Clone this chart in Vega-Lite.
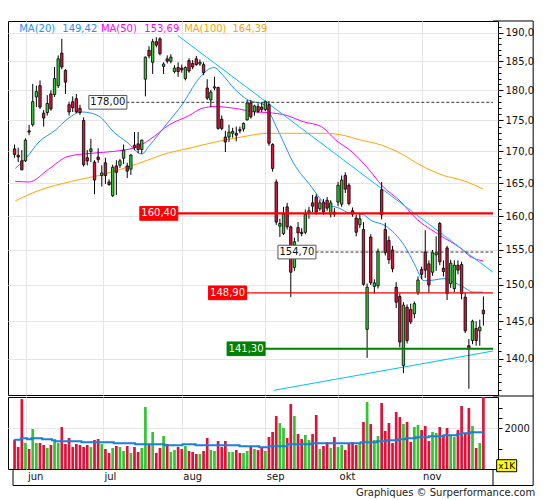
{
  "$schema": "https://vega.github.io/schema/vega-lite/v6.json",
  "background": "white",
  "padding": {"left": 7, "top": 19, "right": 0, "bottom": 0},
  "spacing": 2,
  "bounds": "flush",
  "config": {
    "view": {"stroke": "#000000", "strokeWidth": 1},
    "font": "DejaVu Sans",
    "axis": {"labelFont": "DejaVu Sans", "labelFontSize": 10, "labelColor": "#111111", "tickColor": "#000000"},
    "text": {"font": "DejaVu Sans"}
  },
  "resolve": {"scale": {"x": "independent", "y": "independent"}},
  "datasets": {
    "cand": [
      {"k":1,"o":170.4,"h":171.1,"l":169.0,"c":169.5,"v":1441},
      {"k":2,"o":169.4,"h":170.6,"l":168.3,"c":169.1,"v":1081},
      {"k":3,"o":168.5,"h":170.2,"l":167.0,"c":167.1,"v":3440},
      {"k":4,"o":168.5,"h":172.1,"l":168.3,"c":171.8,"v":1278},
      {"k":5,"o":173.3,"h":174.3,"l":172.6,"c":173.1,"v":983},
      {"k":6,"o":174.3,"h":181.1,"l":174.0,"c":178.1,"v":1966},
      {"k":7,"o":178.9,"h":180.8,"l":177.2,"c":179.8,"v":1278},
      {"k":8,"o":180.8,"h":181.7,"l":176.9,"c":177.2,"v":1278},
      {"k":9,"o":176.2,"h":176.7,"l":174.0,"c":175.4,"v":1179},
      {"k":10,"o":176.3,"h":179.2,"l":175.8,"c":177.8,"v":1032},
      {"k":11,"o":179.4,"h":180.0,"l":176.6,"c":176.9,"v":1179},
      {"k":12,"o":179.3,"h":184.0,"l":178.9,"c":182.0,"v":1409},
      {"k":13,"o":180.8,"h":186.0,"l":180.4,"c":185.4,"v":1278},
      {"k":14,"o":186.4,"h":188.9,"l":183.6,"c":184.0,"v":2064},
      {"k":15,"o":183.4,"h":183.6,"l":179.4,"c":181.4,"v":1229},
      {"k":16,"o":177.6,"h":178.1,"l":175.8,"c":176.4,"v":1523},
      {"k":17,"o":178.1,"h":179.0,"l":176.4,"c":177.1,"v":1081},
      {"k":18,"o":178.6,"h":179.4,"l":176.2,"c":176.4,"v":1229},
      {"k":19,"o":177.0,"h":177.6,"l":175.9,"c":176.3,"v":1179},
      {"k":20,"o":175.0,"h":175.5,"l":167.6,"c":167.9,"v":1081},
      {"k":21,"o":169.0,"h":170.2,"l":167.8,"c":168.5,"v":1179},
      {"k":22,"o":170.0,"h":172.0,"l":168.3,"c":170.4,"v":1081},
      {"k":23,"o":168.3,"h":168.6,"l":163.3,"c":165.5,"v":1425},
      {"k":24,"o":169.1,"h":170.5,"l":168.2,"c":168.7,"v":1474},
      {"k":25,"o":166.2,"h":167.8,"l":164.5,"c":166.6,"v":1229},
      {"k":26,"o":168.2,"h":169.0,"l":164.9,"c":166.2,"v":983},
      {"k":27,"o":165.2,"h":165.6,"l":164.6,"c":164.8,"v":786},
      {"k":28,"o":163.1,"h":167.9,"l":162.9,"c":167.5,"v":1032},
      {"k":29,"o":167.7,"h":168.6,"l":163.2,"c":166.7,"v":1130},
      {"k":30,"o":167.8,"h":168.8,"l":167.4,"c":168.5,"v":1081},
      {"k":31,"o":168.9,"h":171.1,"l":168.0,"c":170.2,"v":885},
      {"k":32,"o":167.7,"h":168.2,"l":165.8,"c":166.9,"v":1130},
      {"k":33,"o":167.2,"h":169.6,"l":166.3,"c":169.4,"v":786},
      {"k":34,"o":171.0,"h":173.1,"l":170.2,"c":170.6,"v":1081},
      {"k":35,"o":171.2,"h":173.1,"l":169.7,"c":170.3,"v":835},
      {"k":36,"o":170.3,"h":171.9,"l":169.6,"c":171.8,"v":1032},
      {"k":37,"o":181.9,"h":185.8,"l":179.0,"c":185.7,"v":3047},
      {"k":38,"o":186.9,"h":187.6,"l":185.5,"c":185.9,"v":1179},
      {"k":39,"o":184.8,"h":188.9,"l":182.8,"c":188.4,"v":1818},
      {"k":40,"o":188.4,"h":189.2,"l":187.4,"c":187.8,"v":786},
      {"k":41,"o":188.9,"h":189.2,"l":186.0,"c":186.3,"v":1032},
      {"k":42,"o":184.1,"h":184.8,"l":182.8,"c":184.5,"v":1622},
      {"k":43,"o":185.4,"h":186.0,"l":184.6,"c":185.0,"v":1229},
      {"k":44,"o":185.0,"h":186.2,"l":184.6,"c":185.7,"v":835},
      {"k":45,"o":183.2,"h":184.3,"l":182.9,"c":183.8,"v":934},
      {"k":46,"o":183.9,"h":184.8,"l":182.3,"c":183.2,"v":1081},
      {"k":47,"o":183.8,"h":184.4,"l":183.0,"c":183.5,"v":983},
      {"k":48,"o":182.0,"h":184.1,"l":181.7,"c":183.9,"v":1130},
      {"k":49,"o":185.1,"h":185.5,"l":183.0,"c":183.3,"v":885},
      {"k":50,"o":184.6,"h":185.2,"l":183.6,"c":184.0,"v":835},
      {"k":51,"o":185.4,"h":185.9,"l":184.2,"c":184.4,"v":737},
      {"k":52,"o":184.5,"h":185.3,"l":184.2,"c":184.8,"v":737},
      {"k":53,"o":184.4,"h":184.8,"l":182.6,"c":183.0,"v":885},
      {"k":54,"o":180.4,"h":181.9,"l":178.4,"c":178.7,"v":1523},
      {"k":55,"o":178.4,"h":180.1,"l":177.2,"c":179.7,"v":934},
      {"k":56,"o":180.4,"h":182.3,"l":180.0,"c":180.6,"v":885},
      {"k":57,"o":180.5,"h":180.6,"l":173.5,"c":173.7,"v":1376},
      {"k":58,"o":175.2,"h":175.8,"l":173.4,"c":173.7,"v":1081},
      {"k":59,"o":172.3,"h":173.3,"l":169.9,"c":171.5,"v":1376},
      {"k":60,"o":172.3,"h":174.3,"l":171.5,"c":173.1,"v":835},
      {"k":61,"o":172.9,"h":173.8,"l":172.2,"c":173.2,"v":835},
      {"k":62,"o":172.9,"h":174.0,"l":171.6,"c":172.6,"v":934},
      {"k":63,"o":173.5,"h":174.0,"l":172.9,"c":173.3,"v":786},
      {"k":64,"o":173.6,"h":174.7,"l":173.2,"c":174.5,"v":786},
      {"k":65,"o":175.1,"h":178.4,"l":175.0,"c":177.9,"v":885},
      {"k":66,"o":177.9,"h":178.4,"l":175.3,"c":175.6,"v":1081},
      {"k":67,"o":176.5,"h":177.6,"l":175.8,"c":177.4,"v":983},
      {"k":68,"o":177.3,"h":177.8,"l":176.2,"c":176.5,"v":934},
      {"k":69,"o":177.2,"h":178.0,"l":176.4,"c":176.8,"v":1032},
      {"k":70,"o":176.8,"h":178.3,"l":176.5,"c":178.1,"v":885},
      {"k":71,"o":177.6,"h":178.2,"l":170.9,"c":171.3,"v":1572},
      {"k":72,"o":171.1,"h":171.3,"l":166.8,"c":167.3,"v":1818},
      {"k":73,"o":165.2,"h":165.6,"l":158.7,"c":159.1,"v":2604},
      {"k":74,"o":158.5,"h":159.6,"l":156.9,"c":158.9,"v":2260},
      {"k":75,"o":157.4,"h":161.4,"l":157.2,"c":160.3,"v":2015},
      {"k":76,"o":161.4,"h":162.0,"l":158.0,"c":158.4,"v":1523},
      {"k":77,"o":158.4,"h":158.6,"l":148.3,"c":151.8,"v":3194},
      {"k":78,"o":152.5,"h":156.8,"l":152.0,"c":156.2,"v":2604},
      {"k":79,"o":158.3,"h":159.1,"l":156.2,"c":157.5,"v":1720},
      {"k":80,"o":157.6,"h":158.2,"l":157.0,"c":157.4,"v":1474},
      {"k":81,"o":157.6,"h":161.0,"l":157.3,"c":160.3,"v":1671},
      {"k":82,"o":160.4,"h":161.4,"l":159.6,"c":160.8,"v":1425},
      {"k":83,"o":162.0,"h":163.2,"l":160.6,"c":161.5,"v":1720},
      {"k":84,"o":162.9,"h":163.3,"l":160.2,"c":160.6,"v":2654},
      {"k":85,"o":161.1,"h":162.5,"l":160.8,"c":162.0,"v":983},
      {"k":86,"o":162.1,"h":162.6,"l":160.2,"c":160.6,"v":1130},
      {"k":87,"o":162.4,"h":162.9,"l":160.8,"c":161.2,"v":1327},
      {"k":88,"o":160.3,"h":162.4,"l":159.8,"c":162.0,"v":1032},
      {"k":89,"o":160.6,"h":161.2,"l":159.9,"c":160.3,"v":1572},
      {"k":90,"o":162.1,"h":165.2,"l":161.5,"c":164.7,"v":1081},
      {"k":91,"o":161.8,"h":166.2,"l":161.4,"c":165.5,"v":1179},
      {"k":92,"o":166.2,"h":166.7,"l":163.5,"c":164.1,"v":934},
      {"k":93,"o":164.7,"h":165.0,"l":161.6,"c":161.9,"v":1278},
      {"k":94,"o":160.8,"h":161.3,"l":159.9,"c":160.3,"v":1327},
      {"k":95,"o":159.7,"h":160.2,"l":157.0,"c":157.6,"v":1179},
      {"k":96,"o":158.7,"h":160.4,"l":158.2,"c":159.6,"v":1229},
      {"k":97,"o":158.0,"h":159.1,"l":149.9,"c":150.1,"v":2310},
      {"k":98,"o":143.9,"h":150.2,"l":140.1,"c":149.7,"v":3292},
      {"k":99,"o":156.9,"h":157.3,"l":150.0,"c":150.3,"v":2211},
      {"k":100,"o":149.8,"h":150.8,"l":148.8,"c":150.3,"v":1425},
      {"k":101,"o":149.9,"h":155.2,"l":149.5,"c":154.8,"v":1622},
      {"k":102,"o":164.0,"h":165.2,"l":159.5,"c":160.2,"v":3243},
      {"k":103,"o":158.0,"h":159.0,"l":154.2,"c":154.6,"v":1867},
      {"k":104,"o":156.4,"h":157.0,"l":153.0,"c":153.6,"v":2260},
      {"k":105,"o":155.0,"h":155.6,"l":151.8,"c":152.3,"v":1278},
      {"k":106,"o":149.7,"h":150.4,"l":146.8,"c":147.6,"v":2801},
      {"k":107,"o":148.4,"h":148.8,"l":141.5,"c":142.2,"v":2555},
      {"k":108,"o":139.1,"h":147.6,"l":138.1,"c":147.2,"v":2211},
      {"k":109,"o":146.9,"h":147.3,"l":142.0,"c":142.4,"v":2310},
      {"k":110,"o":146.6,"h":147.4,"l":144.6,"c":144.9,"v":1327},
      {"k":111,"o":146.0,"h":147.7,"l":145.4,"c":147.4,"v":2064},
      {"k":112,"o":148.9,"h":151.2,"l":148.6,"c":150.7,"v":2162},
      {"k":113,"o":152.2,"h":152.6,"l":150.8,"c":151.5,"v":1916},
      {"k":114,"o":154.7,"h":157.9,"l":151.0,"c":152.1,"v":2113},
      {"k":115,"o":153.0,"h":153.5,"l":148.9,"c":150.0,"v":1376},
      {"k":116,"o":151.8,"h":155.0,"l":151.3,"c":154.6,"v":1818},
      {"k":117,"o":154.3,"h":157.0,"l":152.0,"c":154.6,"v":1769},
      {"k":118,"o":158.9,"h":159.1,"l":152.8,"c":153.3,"v":2064},
      {"k":119,"o":152.4,"h":153.5,"l":151.2,"c":151.9,"v":1671},
      {"k":120,"o":155.3,"h":155.6,"l":147.9,"c":148.8,"v":2015},
      {"k":121,"o":150.2,"h":153.6,"l":149.6,"c":153.1,"v":1622},
      {"k":122,"o":149.5,"h":153.5,"l":149.0,"c":152.8,"v":1572},
      {"k":123,"o":152.8,"h":153.5,"l":151.5,"c":152.1,"v":1916},
      {"k":124,"o":152.9,"h":153.3,"l":148.0,"c":148.8,"v":3096},
      {"k":125,"o":148.3,"h":148.9,"l":143.4,"c":143.7,"v":1769},
      {"k":126,"o":141.7,"h":142.6,"l":136.1,"c":141.3,"v":2998},
      {"k":127,"o":142.4,"h":145.2,"l":141.9,"c":145.0,"v":2113},
      {"k":128,"o":144.0,"h":145.0,"l":141.7,"c":142.4,"v":1032},
      {"k":129,"o":143.7,"h":145.2,"l":141.7,"c":144.2,"v":1278},
      {"k":130,"o":146.5,"h":148.4,"l":144.4,"c":146.0,"v":3540}
    ],
    "ma": [
      {"s":"a","k":1.2,"v":167.3},{"s":"a","k":4.1,"v":168.9},{"s":"a","k":7.7,"v":171.5},{"s":"a","k":12.2,"v":173.4},
      {"s":"a","k":15.7,"v":175.3},{"s":"a","k":19.4,"v":176.4},{"s":"a","k":22.1,"v":176.2},{"s":"a","k":24.7,"v":175.5},
      {"s":"a","k":28.3,"v":173.1},{"s":"a","k":31.9,"v":171.5},{"s":"a","k":36.0,"v":169.6},{"s":"a","k":38.2,"v":171.0},
      {"s":"a","k":42.7,"v":174.3},{"s":"a","k":47.2,"v":177.7},{"s":"a","k":51.7,"v":182.0},{"s":"a","k":54.4,"v":183.6},
      {"s":"a","k":55.9,"v":183.9},{"s":"a","k":58.0,"v":182.8},{"s":"a","k":61.6,"v":180.2},{"s":"a","k":65.2,"v":178.4},
      {"s":"a","k":69.7,"v":177.6},{"s":"a","k":70.6,"v":176.9},{"s":"a","k":73.3,"v":173.6},{"s":"a","k":74.2,"v":172.5},
      {"s":"a","k":77.7,"v":168.2},{"s":"a","k":82.2,"v":164.8},{"s":"a","k":86.7,"v":161.8},{"s":"a","k":90.3,"v":161.2},
      {"s":"a","k":93.0,"v":160.5},{"s":"a","k":96.6,"v":160.3},{"s":"a","k":99.3,"v":159.3},{"s":"a","k":102.9,"v":158.6},
      {"s":"a","k":105.6,"v":157.4},{"s":"a","k":108.3,"v":155.6},{"s":"a","k":111.0,"v":153.0},{"s":"a","k":113.7,"v":150.6},
      {"s":"a","k":116.4,"v":150.7},{"s":"a","k":119.1,"v":150.9},{"s":"a","k":121.8,"v":150.4},{"s":"a","k":124.5,"v":149.7},
      {"s":"a","k":127.2,"v":149.0},{"s":"a","k":129.9,"v":149.0},
      {"s":"b","k":1.2,"v":165.3},{"s":"b","k":5.0,"v":165.2},{"s":"b","k":10.4,"v":167.2},{"s":"b","k":15.7,"v":169.2},
      {"s":"b","k":22.1,"v":169.7},{"s":"b","k":28.3,"v":170.0},{"s":"b","k":34.6,"v":170.7},{"s":"b","k":38.2,"v":171.9},
      {"s":"b","k":43.6,"v":174.3},{"s":"b","k":49.0,"v":175.8},{"s":"b","k":52.6,"v":177.0},{"s":"b","k":56.2,"v":177.3},
      {"s":"b","k":61.6,"v":177.0},{"s":"b","k":67.0,"v":176.4},{"s":"b","k":70.6,"v":176.3},{"s":"b","k":76.0,"v":175.8},
      {"s":"b","k":80.4,"v":174.8},{"s":"b","k":85.4,"v":174.0},{"s":"b","k":89.4,"v":171.8},{"s":"b","k":93.9,"v":169.9},
      {"s":"b","k":98.4,"v":167.2},{"s":"b","k":102.0,"v":164.7},{"s":"b","k":107.4,"v":162.1},{"s":"b","k":111.0,"v":159.9},
      {"s":"b","k":118.2,"v":157.1},{"s":"b","k":123.6,"v":155.3},{"s":"b","k":126.3,"v":154.1},{"s":"b","k":129.9,"v":153.4},
      {"s":"c","k":1.2,"v":162.3},{"s":"c","k":7.7,"v":163.9},{"s":"c","k":16.7,"v":165.3},{"s":"c","k":25.6,"v":166.4},
      {"s":"c","k":34.6,"v":168.0},{"s":"c","k":43.6,"v":169.8},{"s":"c","k":49.0,"v":170.5},{"s":"c","k":56.2,"v":171.5},
      {"s":"c","k":63.4,"v":172.3},{"s":"c","k":70.6,"v":172.9},{"s":"c","k":77.7,"v":172.9},{"s":"c","k":86.7,"v":172.9},
      {"s":"c","k":92.1,"v":172.5},{"s":"c","k":95.7,"v":171.9},{"s":"c","k":102.0,"v":171.0},{"s":"c","k":106.5,"v":169.9},
      {"s":"c","k":113.7,"v":167.5},{"s":"c","k":119.1,"v":166.2},{"s":"c","k":124.5,"v":165.4},{"s":"c","k":129.9,"v":164.1}
    ],
    "trend": [
      {"g":"t1","k":45.9,"p":189.5},{"g":"t1","k":132.64,"p":151.8},
      {"g":"t2","k":72.3,"p":135.9},{"g":"t2","k":132.64,"p":141.0}
    ],
    "refs": [
      {"p":178.0,"t":"178,00","kl":26.67,"k0":31.75,"k1":132.64,"kind":"dash"},
      {"p":160.4,"t":"160,40","kl":40.69,"k0":45.07,"k1":132.64,"kind":"red"},
      {"p":154.7,"t":"154,70","kl":78.7,"k0":83.8,"k1":132.64,"kind":"dash"},
      {"p":148.9,"t":"148,90","kl":59.6,"k0":64.9,"k1":132.64,"kind":"redthin"},
      {"p":141.3,"t":"141,30","kl":64.7,"k0":69.84,"k1":132.64,"kind":"green"}
    ],
    "leg": [
      {"s":"a","k":2.27,"p":190.7,"t":"MA(20)"},{"s":"a","k":14.13,"p":190.7,"t":"149,42"},
      {"s":"b","k":24.75,"p":190.7,"t":"MA(50)"},{"s":"b","k":36.69,"p":190.7,"t":"153,69"},
      {"s":"c","k":47.66,"p":190.7,"t":"MA(100)"},{"s":"c","k":60.95,"p":190.7,"t":"164,39"}
    ],
    "vma": [
      {"k":0.93,"v":1441},{"k":2.7,"v":1507},{"k":4.5,"v":1458},{"k":5.6,"v":1507},{"k":8.6,"v":1458},
      {"k":11.3,"v":1409},{"k":12.2,"v":1360},{"k":19.4,"v":1310},{"k":28.3,"v":1261},{"k":34.2,"v":1212},
      {"k":42.3,"v":1163},{"k":47.2,"v":1212},{"k":50.8,"v":1163},{"k":62.9,"v":1114},{"k":68.3,"v":1065},
      {"k":71.0,"v":1114},{"k":76.0,"v":1212},{"k":82.7,"v":1261},{"k":96.2,"v":1310},{"k":100.7,"v":1360},
      {"k":103.3,"v":1409},{"k":106.5,"v":1458},{"k":108.7,"v":1507},{"k":111.4,"v":1556},{"k":115.0,"v":1605},
      {"k":119.1,"v":1654},{"k":122.7,"v":1703},{"k":124.1,"v":1753},{"k":126.3,"v":1802},{"k":129.9,"v":1802}
    ],
    "frame": [
      {"k":132.64,"k2":143.69,"v":22027,"v2":22027},
      {"k":143.69,"k2":143.69,"v":-811,"v2":22027},
      {"k":132.64,"k2":143.69,"v":3589,"v2":3589},
      {"k":0.569,"k2":143.69,"v":-811,"v2":-811},
      {"k":0.569,"k2":0.569,"v":-811,"v2":0},
      {"k":132.64,"k2":132.64,"v":-811,"v2":0}
    ],
    "unit": [{"k":136.4,"v":162,"t":"x1K"}],
    "foot": [{"k":144.23,"v":-1180,"t":"Graphiques © Surperformance.com"}]
  },
  "vconcat": [
    {
      "width": 490,
      "height": 374,
      "layer": [
        {
          "data": {"name": "ma"},
          "mark": {"type": "line", "strokeWidth": 1, "interpolate": "monotone"},
          "encoding": {
            "x": {"field": "k", "type": "quantitative", "scale": {"domain": [0.569, 132.64], "nice": false, "zero": false},
                  "axis": {"values": [4.25, 25.3, 47, 70, 90, 113], "labels": false, "ticks": false, "domain": false, "grid": true, "gridColor": "#e6e6e6", "title": null}},
            "y": {"field": "v", "type": "quantitative", "scale": {"type": "log", "domain": [135.31, 192.09], "nice": false},
                  "axis": {"orient": "right", "title": null, "domain": false, "values": [136,137,138,139,140,141,142,143,144,145,146,147,148,149,150,151,152,153,154,155,156,157,158,159,160,161,162,163,164,165,166,167,168,169,170,171,172,173,174,175,176,177,178,179,180,181,182,183,184,185,186,187,188,189,190,191], "labelExpr": "datum.value % 5 == 0 ? replace(format(datum.value, '.1f'), '.', ',') : ''", "tickSize": {"condition": {"test": "datum.value % 5 == 0", "value": 5}, "value": 3}, "grid": true, "gridColor": "#e6e6e6", "gridOpacity": {"condition": {"test": "datum.value % 5 == 0", "value": 1}, "value": 0}, "labelPadding": 2, "labelOverlap": false, "labelFontSize": 10}},
            "detail": {"field": "s"},
            "color": {"condition": [{"test": "datum.s == 'a'", "value": "#1e90ff"}, {"test": "datum.s == 'b'", "value": "#ff00ff"}], "value": "#ffa500"}
          }
        },
        {
          "data": {"name": "trend"},
          "mark": {"type": "line", "strokeWidth": 1, "color": "#00bfff"},
          "encoding": {
            "x": {"field": "k", "type": "quantitative", "scale": {"domain": [0.569, 132.64], "nice": false, "zero": false},
                  "axis": {"values": [4.25, 25.3, 47, 70, 90, 113], "labels": false, "ticks": false, "domain": false, "grid": true, "gridColor": "#e6e6e6", "title": null}},
            "y": {"field": "p", "type": "quantitative", "scale": {"type": "log", "domain": [135.31, 192.09], "nice": false},
                  "axis": {"orient": "right", "title": null, "domain": false, "values": [136,137,138,139,140,141,142,143,144,145,146,147,148,149,150,151,152,153,154,155,156,157,158,159,160,161,162,163,164,165,166,167,168,169,170,171,172,173,174,175,176,177,178,179,180,181,182,183,184,185,186,187,188,189,190,191], "labelExpr": "datum.value % 5 == 0 ? replace(format(datum.value, '.1f'), '.', ',') : ''", "tickSize": {"condition": {"test": "datum.value % 5 == 0", "value": 5}, "value": 3}, "grid": true, "gridColor": "#e6e6e6", "gridOpacity": {"condition": {"test": "datum.value % 5 == 0", "value": 1}, "value": 0}, "labelPadding": 2, "labelOverlap": false, "labelFontSize": 10}},
            "detail": {"field": "g"}
          }
        },
        {
          "data": {"name": "cand"},
          "mark": {"type": "rule", "color": "#000000", "strokeWidth": 1},
          "encoding": {
            "x": {"field": "k", "type": "quantitative", "scale": {"domain": [0.569, 132.64], "nice": false, "zero": false},
                  "axis": {"values": [4.25, 25.3, 47, 70, 90, 113], "labels": false, "ticks": false, "domain": false, "grid": true, "gridColor": "#e6e6e6", "title": null}},
            "y": {"field": "l", "type": "quantitative", "scale": {"type": "log", "domain": [135.31, 192.09], "nice": false},
                  "axis": {"orient": "right", "title": null, "domain": false, "values": [136,137,138,139,140,141,142,143,144,145,146,147,148,149,150,151,152,153,154,155,156,157,158,159,160,161,162,163,164,165,166,167,168,169,170,171,172,173,174,175,176,177,178,179,180,181,182,183,184,185,186,187,188,189,190,191], "labelExpr": "datum.value % 5 == 0 ? replace(format(datum.value, '.1f'), '.', ',') : ''", "tickSize": {"condition": {"test": "datum.value % 5 == 0", "value": 5}, "value": 3}, "grid": true, "gridColor": "#e6e6e6", "gridOpacity": {"condition": {"test": "datum.value % 5 == 0", "value": 1}, "value": 0}, "labelPadding": 2, "labelOverlap": false, "labelFontSize": 10}},
            "y2": {"field": "h"}
          }
        },
        {
          "data": {"name": "cand"},
          "mark": {"type": "bar", "size": 2.4, "stroke": "#000000", "strokeWidth": 0.8},
          "encoding": {
            "x": {"field": "k", "type": "quantitative", "scale": {"domain": [0.569, 132.64], "nice": false, "zero": false},
                  "axis": {"values": [4.25, 25.3, 47, 70, 90, 113], "labels": false, "ticks": false, "domain": false, "grid": true, "gridColor": "#e6e6e6", "title": null}},
            "y": {"field": "o", "type": "quantitative", "scale": {"type": "log", "domain": [135.31, 192.09], "nice": false},
                  "axis": {"orient": "right", "title": null, "domain": false, "values": [136,137,138,139,140,141,142,143,144,145,146,147,148,149,150,151,152,153,154,155,156,157,158,159,160,161,162,163,164,165,166,167,168,169,170,171,172,173,174,175,176,177,178,179,180,181,182,183,184,185,186,187,188,189,190,191], "labelExpr": "datum.value % 5 == 0 ? replace(format(datum.value, '.1f'), '.', ',') : ''", "tickSize": {"condition": {"test": "datum.value % 5 == 0", "value": 5}, "value": 3}, "grid": true, "gridColor": "#e6e6e6", "gridOpacity": {"condition": {"test": "datum.value % 5 == 0", "value": 1}, "value": 0}, "labelPadding": 2, "labelOverlap": false, "labelFontSize": 10}},
            "y2": {"field": "c"},
            "fill": {"condition": {"test": "datum.c >= datum.o", "value": "#33cc33"}, "value": "#dc143c"}
          }
        },
        {
          "data": {"name": "refs"},
          "mark": {"type": "rule"},
          "encoding": {
            "x": {"field": "k0", "type": "quantitative", "scale": {"domain": [0.569, 132.64], "nice": false, "zero": false},
                  "axis": {"values": [4.25, 25.3, 47, 70, 90, 113], "labels": false, "ticks": false, "domain": false, "grid": true, "gridColor": "#e6e6e6", "title": null}},
            "x2": {"field": "k1"},
            "y": {"field": "p", "type": "quantitative", "scale": {"type": "log", "domain": [135.31, 192.09], "nice": false},
                  "axis": {"orient": "right", "title": null, "domain": false, "values": [136,137,138,139,140,141,142,143,144,145,146,147,148,149,150,151,152,153,154,155,156,157,158,159,160,161,162,163,164,165,166,167,168,169,170,171,172,173,174,175,176,177,178,179,180,181,182,183,184,185,186,187,188,189,190,191], "labelExpr": "datum.value % 5 == 0 ? replace(format(datum.value, '.1f'), '.', ',') : ''", "tickSize": {"condition": {"test": "datum.value % 5 == 0", "value": 5}, "value": 3}, "grid": true, "gridColor": "#e6e6e6", "gridOpacity": {"condition": {"test": "datum.value % 5 == 0", "value": 1}, "value": 0}, "labelPadding": 2, "labelOverlap": false, "labelFontSize": 10}},
            "color": {"condition": [{"test": "datum.kind == 'dash'", "value": "#333333"}, {"test": "datum.kind == 'green'", "value": "#008000"}], "value": "#ff0000"},
            "strokeWidth": {"condition": [{"test": "datum.kind == 'dash'", "value": 1}, {"test": "datum.kind == 'redthin'", "value": 1.3}], "value": 2.2},
            "strokeDash": {"condition": {"test": "datum.kind == 'dash'", "value": [3, 2]}, "value": [1, 0]}
          }
        },
        {
          "data": {"name": "refs"},
          "mark": {"type": "point", "shape": "M-1,-0.36H1V0.36H-1Z", "size": 1444, "filled": true, "opacity": 1, "strokeWidth": 1},
          "encoding": {
            "x": {"field": "kl", "type": "quantitative", "scale": {"domain": [0.569, 132.64], "nice": false, "zero": false},
                  "axis": {"values": [4.25, 25.3, 47, 70, 90, 113], "labels": false, "ticks": false, "domain": false, "grid": true, "gridColor": "#e6e6e6", "title": null}},
            "y": {"field": "p", "type": "quantitative", "scale": {"type": "log", "domain": [135.31, 192.09], "nice": false},
                  "axis": {"orient": "right", "title": null, "domain": false, "values": [136,137,138,139,140,141,142,143,144,145,146,147,148,149,150,151,152,153,154,155,156,157,158,159,160,161,162,163,164,165,166,167,168,169,170,171,172,173,174,175,176,177,178,179,180,181,182,183,184,185,186,187,188,189,190,191], "labelExpr": "datum.value % 5 == 0 ? replace(format(datum.value, '.1f'), '.', ',') : ''", "tickSize": {"condition": {"test": "datum.value % 5 == 0", "value": 5}, "value": 3}, "grid": true, "gridColor": "#e6e6e6", "gridOpacity": {"condition": {"test": "datum.value % 5 == 0", "value": 1}, "value": 0}, "labelPadding": 2, "labelOverlap": false, "labelFontSize": 10}},
            "fill": {"condition": [{"test": "datum.kind == 'dash'", "value": "#ffffff"}, {"test": "datum.kind == 'green'", "value": "#008000"}], "value": "#ff0000"},
            "stroke": {"condition": [{"test": "datum.kind == 'dash'", "value": "#555555"}, {"test": "datum.kind == 'green'", "value": "#008000"}], "value": "#ff0000"}
          }
        },
        {
          "data": {"name": "refs"},
          "mark": {"type": "text", "fontSize": 10, "align": "center", "baseline": "middle"},
          "encoding": {
            "x": {"field": "kl", "type": "quantitative", "scale": {"domain": [0.569, 132.64], "nice": false, "zero": false},
                  "axis": {"values": [4.25, 25.3, 47, 70, 90, 113], "labels": false, "ticks": false, "domain": false, "grid": true, "gridColor": "#e6e6e6", "title": null}},
            "y": {"field": "p", "type": "quantitative", "scale": {"type": "log", "domain": [135.31, 192.09], "nice": false},
                  "axis": {"orient": "right", "title": null, "domain": false, "values": [136,137,138,139,140,141,142,143,144,145,146,147,148,149,150,151,152,153,154,155,156,157,158,159,160,161,162,163,164,165,166,167,168,169,170,171,172,173,174,175,176,177,178,179,180,181,182,183,184,185,186,187,188,189,190,191], "labelExpr": "datum.value % 5 == 0 ? replace(format(datum.value, '.1f'), '.', ',') : ''", "tickSize": {"condition": {"test": "datum.value % 5 == 0", "value": 5}, "value": 3}, "grid": true, "gridColor": "#e6e6e6", "gridOpacity": {"condition": {"test": "datum.value % 5 == 0", "value": 1}, "value": 0}, "labelPadding": 2, "labelOverlap": false, "labelFontSize": 10}},
            "text": {"field": "t"},
            "color": {"condition": {"test": "datum.kind == 'dash'", "value": "#111111"}, "value": "#ffffff"}
          }
        },
        {
          "data": {"name": "leg"},
          "mark": {"type": "text", "fontSize": 10, "align": "left", "baseline": "middle"},
          "encoding": {
            "x": {"field": "k", "type": "quantitative", "scale": {"domain": [0.569, 132.64], "nice": false, "zero": false},
                  "axis": {"values": [4.25, 25.3, 47, 70, 90, 113], "labels": false, "ticks": false, "domain": false, "grid": true, "gridColor": "#e6e6e6", "title": null}},
            "y": {"field": "p", "type": "quantitative", "scale": {"type": "log", "domain": [135.31, 192.09], "nice": false},
                  "axis": {"orient": "right", "title": null, "domain": false, "values": [136,137,138,139,140,141,142,143,144,145,146,147,148,149,150,151,152,153,154,155,156,157,158,159,160,161,162,163,164,165,166,167,168,169,170,171,172,173,174,175,176,177,178,179,180,181,182,183,184,185,186,187,188,189,190,191], "labelExpr": "datum.value % 5 == 0 ? replace(format(datum.value, '.1f'), '.', ',') : ''", "tickSize": {"condition": {"test": "datum.value % 5 == 0", "value": 5}, "value": 3}, "grid": true, "gridColor": "#e6e6e6", "gridOpacity": {"condition": {"test": "datum.value % 5 == 0", "value": 1}, "value": 0}, "labelPadding": 2, "labelOverlap": false, "labelFontSize": 10}},
            "text": {"field": "t"},
            "color": {"condition": [{"test": "datum.s == 'a'", "value": "#1e90ff"}, {"test": "datum.s == 'b'", "value": "#ff00ff"}], "value": "#ffa500"}
          }
        }
      ]
    },
    {
      "width": 490,
      "height": 72,
      "layer": [
        {
          "data": {"name": "cand"},
          "mark": {"type": "bar", "size": 2.7},
          "encoding": {
            "x": {"field": "k", "type": "quantitative", "scale": {"domain": [0.569, 132.64], "nice": false, "zero": false},
                  "axis": {"orient": "bottom", "values": [4.25, 25.3, 47, 70, 90, 113], "labelExpr": "datum.value < 10 ? 'jun' : datum.value < 30 ? 'jul' : datum.value < 60 ? 'aug' : datum.value < 80 ? 'sep' : datum.value < 100 ? 'okt' : 'nov'", "labelAlign": "left", "labelBaseline": "top", "labelPadding": 2, "labelOffset": 1, "labelFontSize": 10, "labelColor": "#111111", "labelFlush": false, "labelOverlap": false, "ticks": false, "domain": false, "grid": true, "gridColor": "#e6e6e6", "title": null}},
            "y": {"field": "v", "type": "quantitative", "scale": {"domain": [0, 3540], "nice": false, "zero": true},
                  "axis": {"orient": "right", "values": [1000, 2000, 2500, 3000], "labelExpr": "datum.value == 2000 ? '2000' : ''", "tickSize": 4, "grid": true, "gridColor": "#e6e6e6", "gridOpacity": {"condition": {"test": "datum.value == 2000", "value": 1}, "value": 0}, "domain": false, "title": null, "labelPadding": 2, "labelOverlap": false, "labelFontSize": 10}},
            "fill": {"condition": {"test": "datum.c >= datum.o", "value": "#33c433"}, "value": "#dc143c"}
          }
        },
        {
          "data": {"name": "vma"},
          "mark": {"type": "line", "interpolate": "step-after", "color": "#1a7fd9", "strokeWidth": 2},
          "encoding": {
            "x": {"field": "k", "type": "quantitative", "scale": {"domain": [0.569, 132.64], "nice": false, "zero": false},
                  "axis": {"orient": "bottom", "values": [4.25, 25.3, 47, 70, 90, 113], "labelExpr": "datum.value < 10 ? 'jun' : datum.value < 30 ? 'jul' : datum.value < 60 ? 'aug' : datum.value < 80 ? 'sep' : datum.value < 100 ? 'okt' : 'nov'", "labelAlign": "left", "labelBaseline": "top", "labelPadding": 2, "labelOffset": 1, "labelFontSize": 10, "labelColor": "#111111", "labelFlush": false, "labelOverlap": false, "ticks": false, "domain": false, "grid": true, "gridColor": "#e6e6e6", "title": null}},
            "y": {"field": "v", "type": "quantitative", "scale": {"domain": [0, 3540], "nice": false, "zero": true},
                  "axis": {"orient": "right", "values": [1000, 2000, 2500, 3000], "labelExpr": "datum.value == 2000 ? '2000' : ''", "tickSize": 4, "grid": true, "gridColor": "#e6e6e6", "gridOpacity": {"condition": {"test": "datum.value == 2000", "value": 1}, "value": 0}, "domain": false, "title": null, "labelPadding": 2, "labelOverlap": false, "labelFontSize": 10}}
          }
        },
        {
          "data": {"name": "frame"},
          "mark": {"type": "rule", "color": "#000000", "strokeWidth": 1, "clip": false},
          "encoding": {
            "x": {"field": "k", "type": "quantitative", "scale": {"domain": [0.569, 132.64], "nice": false, "zero": false},
                  "axis": {"orient": "bottom", "values": [4.25, 25.3, 47, 70, 90, 113], "labelExpr": "datum.value < 10 ? 'jun' : datum.value < 30 ? 'jul' : datum.value < 60 ? 'aug' : datum.value < 80 ? 'sep' : datum.value < 100 ? 'okt' : 'nov'", "labelAlign": "left", "labelBaseline": "top", "labelPadding": 2, "labelOffset": 1, "labelFontSize": 10, "labelColor": "#111111", "labelFlush": false, "labelOverlap": false, "ticks": false, "domain": false, "grid": true, "gridColor": "#e6e6e6", "title": null}},
            "x2": {"field": "k2"},
            "y": {"field": "v", "type": "quantitative", "scale": {"domain": [0, 3540], "nice": false, "zero": true},
                  "axis": {"orient": "right", "values": [1000, 2000, 2500, 3000], "labelExpr": "datum.value == 2000 ? '2000' : ''", "tickSize": 4, "grid": true, "gridColor": "#e6e6e6", "gridOpacity": {"condition": {"test": "datum.value == 2000", "value": 1}, "value": 0}, "domain": false, "title": null, "labelPadding": 2, "labelOverlap": false, "labelFontSize": 10}},
            "y2": {"field": "v2"}
          }
        },
        {
          "data": {"name": "unit"},
          "mark": {"type": "point", "shape": "M-1,-0.6H1V0.6H-1Z", "size": 400, "filled": true, "opacity": 1, "fill": "#ffff00", "stroke": "#000000", "strokeWidth": 1, "clip": false},
          "encoding": {
            "x": {"field": "k", "type": "quantitative", "scale": {"domain": [0.569, 132.64], "nice": false, "zero": false},
                  "axis": {"orient": "bottom", "values": [4.25, 25.3, 47, 70, 90, 113], "labelExpr": "datum.value < 10 ? 'jun' : datum.value < 30 ? 'jul' : datum.value < 60 ? 'aug' : datum.value < 80 ? 'sep' : datum.value < 100 ? 'okt' : 'nov'", "labelAlign": "left", "labelBaseline": "top", "labelPadding": 2, "labelOffset": 1, "labelFontSize": 10, "labelColor": "#111111", "labelFlush": false, "labelOverlap": false, "ticks": false, "domain": false, "grid": true, "gridColor": "#e6e6e6", "title": null}},
            "y": {"field": "v", "type": "quantitative", "scale": {"domain": [0, 3540], "nice": false, "zero": true},
                  "axis": {"orient": "right", "values": [1000, 2000, 2500, 3000], "labelExpr": "datum.value == 2000 ? '2000' : ''", "tickSize": 4, "grid": true, "gridColor": "#e6e6e6", "gridOpacity": {"condition": {"test": "datum.value == 2000", "value": 1}, "value": 0}, "domain": false, "title": null, "labelPadding": 2, "labelOverlap": false, "labelFontSize": 10}}
          }
        },
        {
          "data": {"name": "unit"},
          "mark": {"type": "text", "fontSize": 9, "align": "center", "baseline": "middle", "color": "#000000", "clip": false},
          "encoding": {
            "x": {"field": "k", "type": "quantitative", "scale": {"domain": [0.569, 132.64], "nice": false, "zero": false},
                  "axis": {"orient": "bottom", "values": [4.25, 25.3, 47, 70, 90, 113], "labelExpr": "datum.value < 10 ? 'jun' : datum.value < 30 ? 'jul' : datum.value < 60 ? 'aug' : datum.value < 80 ? 'sep' : datum.value < 100 ? 'okt' : 'nov'", "labelAlign": "left", "labelBaseline": "top", "labelPadding": 2, "labelOffset": 1, "labelFontSize": 10, "labelColor": "#111111", "labelFlush": false, "labelOverlap": false, "ticks": false, "domain": false, "grid": true, "gridColor": "#e6e6e6", "title": null}},
            "y": {"field": "v", "type": "quantitative", "scale": {"domain": [0, 3540], "nice": false, "zero": true},
                  "axis": {"orient": "right", "values": [1000, 2000, 2500, 3000], "labelExpr": "datum.value == 2000 ? '2000' : ''", "tickSize": 4, "grid": true, "gridColor": "#e6e6e6", "gridOpacity": {"condition": {"test": "datum.value == 2000", "value": 1}, "value": 0}, "domain": false, "title": null, "labelPadding": 2, "labelOverlap": false, "labelFontSize": 10}},
            "text": {"field": "t"}
          }
        },
        {
          "data": {"name": "foot"},
          "mark": {"type": "text", "fontSize": 10, "align": "right", "baseline": "middle", "color": "#222222", "clip": false},
          "encoding": {
            "x": {"field": "k", "type": "quantitative", "scale": {"domain": [0.569, 132.64], "nice": false, "zero": false},
                  "axis": {"orient": "bottom", "values": [4.25, 25.3, 47, 70, 90, 113], "labelExpr": "datum.value < 10 ? 'jun' : datum.value < 30 ? 'jul' : datum.value < 60 ? 'aug' : datum.value < 80 ? 'sep' : datum.value < 100 ? 'okt' : 'nov'", "labelAlign": "left", "labelBaseline": "top", "labelPadding": 2, "labelOffset": 1, "labelFontSize": 10, "labelColor": "#111111", "labelFlush": false, "labelOverlap": false, "ticks": false, "domain": false, "grid": true, "gridColor": "#e6e6e6", "title": null}},
            "y": {"field": "v", "type": "quantitative", "scale": {"domain": [0, 3540], "nice": false, "zero": true},
                  "axis": {"orient": "right", "values": [1000, 2000, 2500, 3000], "labelExpr": "datum.value == 2000 ? '2000' : ''", "tickSize": 4, "grid": true, "gridColor": "#e6e6e6", "gridOpacity": {"condition": {"test": "datum.value == 2000", "value": 1}, "value": 0}, "domain": false, "title": null, "labelPadding": 2, "labelOverlap": false, "labelFontSize": 10}},
            "text": {"field": "t"}
          }
        }
      ]
    }
  ]
}
